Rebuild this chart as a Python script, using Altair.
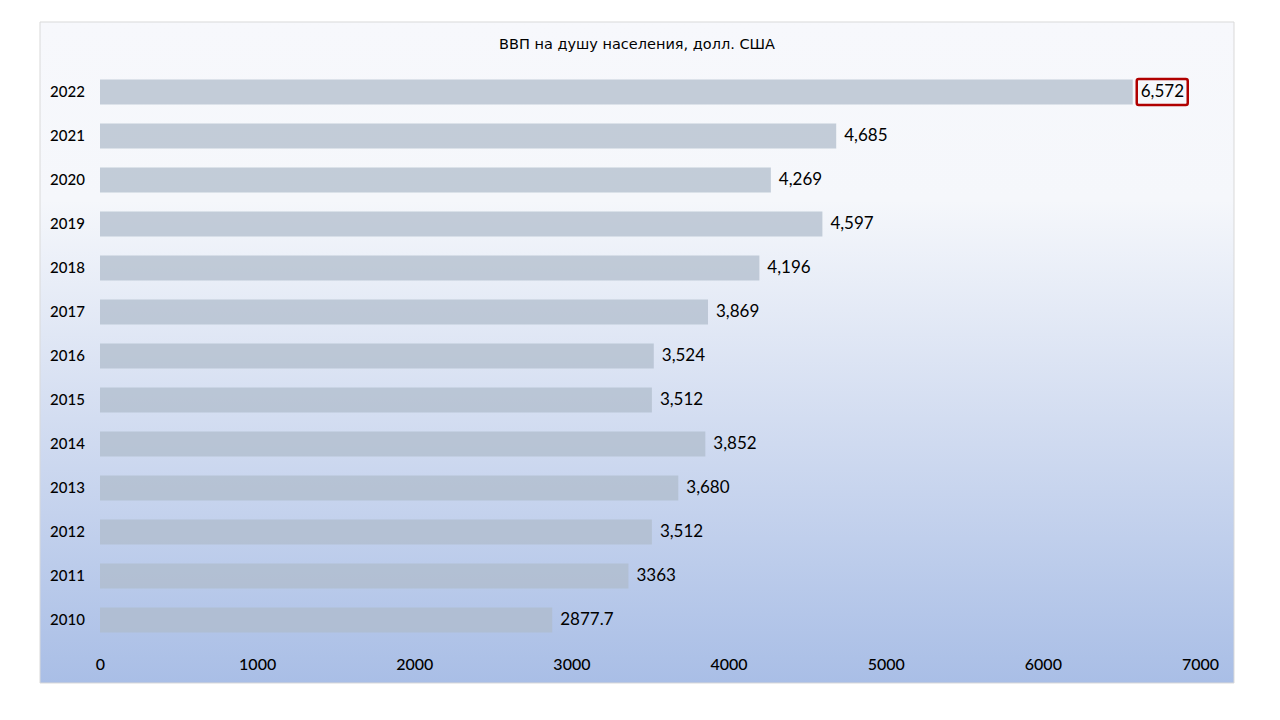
import altair as alt
import pandas as pd

title_text = "ВВП на душу населения, долл. США"
years = ["2010", "2011", "2012", "2013", "2014", "2015", "2016",
         "2017", "2018", "2019", "2020", "2021", "2022"]
values = [2877.7, 3363, 3512, 3680, 3852, 3512, 3524,
          3869, 4196, 4597, 4269, 4685, 6572]
labels = ["2877.7", "3363", "3,512", "3,680", "3,852", "3,512", "3,524",
          "3,869", "4,196", "4,597", "4,269", "4,685", "6,572"]
highlight_year = "2022"
x_ticks = [0, 1000, 2000, 3000, 4000, 5000, 6000, 7000]

df = pd.DataFrame({"year": years, "value": values, "label": labels})

FONT = "Lato"
W, H = 1100, 572

one = pd.DataFrame({"t": [title_text]})

bg = alt.Chart(one).mark_rect(
    fill=alt.Gradient(
        gradient="linear",
        stops=[
            alt.GradientStop(color="#f7f8fc", offset=0),
            alt.GradientStop(color="#f5f7fb", offset=0.27),
            alt.GradientStop(color="#d3ddf1", offset=0.6),
            alt.GradientStop(color="#a9bee6", offset=1),
        ],
        x1=0, x2=0, y1=0, y2=1,
    ),
    stroke="#d9d9d9",
    strokeWidth=1,
).encode(
    x=alt.value(-60), x2=alt.value(W + 34),
    y=alt.value(-48), y2=alt.value(H + 41),
)

title = alt.Chart(one).mark_text(
    font="DejaVu Sans", fontSize=14.5, color="#000000", align="center",
    baseline="middle").encode(
    x=alt.value(W / 2 - 13), y=alt.value(-25), text="t:N")

y_enc = alt.Y("year:O", sort="descending", title=None,
              scale=alt.Scale(paddingInner=0.432, paddingOuter=0.216),
              axis=alt.Axis(ticks=False, domain=False, labelFont=FONT,
                            labelFontSize=15, labelColor="#000000",
                            labelFontWeight=500,
                            labelAlign="center", labelPadding=33, zindex=2))
x_enc = alt.X("value:Q", title=None,
              scale=alt.Scale(domain=[0, 7000], nice=False),
              axis=alt.Axis(values=x_ticks, ticks=False, domain=False,
                            grid=False, labelFont=FONT, labelFontSize=16,
                            labelColor="#000000", labelPadding=14,
                            labelFontWeight=500,
                            format="d", labelFlush=False, zindex=2))

base = alt.Chart(df)

bars = base.mark_bar(color="#afbbcb", opacity=0.72).encode(x=x_enc, y=y_enc)

text = base.mark_text(align="left", baseline="middle", dx=8, font=FONT,
                      fontSize=17, color="#000000").encode(
    x="value:Q", y=alt.Y("year:O", sort="descending"), text="label:N")

box = base.transform_filter(alt.datum.year == highlight_year).mark_rect(
    width=51, height=26, xOffset=29.5, filled=False, fillOpacity=0,
    stroke="#b00000", strokeWidth=2.5, cornerRadius=2).encode(
    x="value:Q", y=alt.Y("year:O", sort="descending"))

chart = alt.layer(bg, title, bars, text, box).properties(
    width=W, height=H,
    autosize=alt.AutoSizeParams(type="none"),
    padding={"left": 92, "top": 62, "right": 42, "bottom": 45},
).configure_view(stroke=None).configure(background="#ffffff")

chart.save("out.html", embed_options={"renderer": "svg", "actions": False})
